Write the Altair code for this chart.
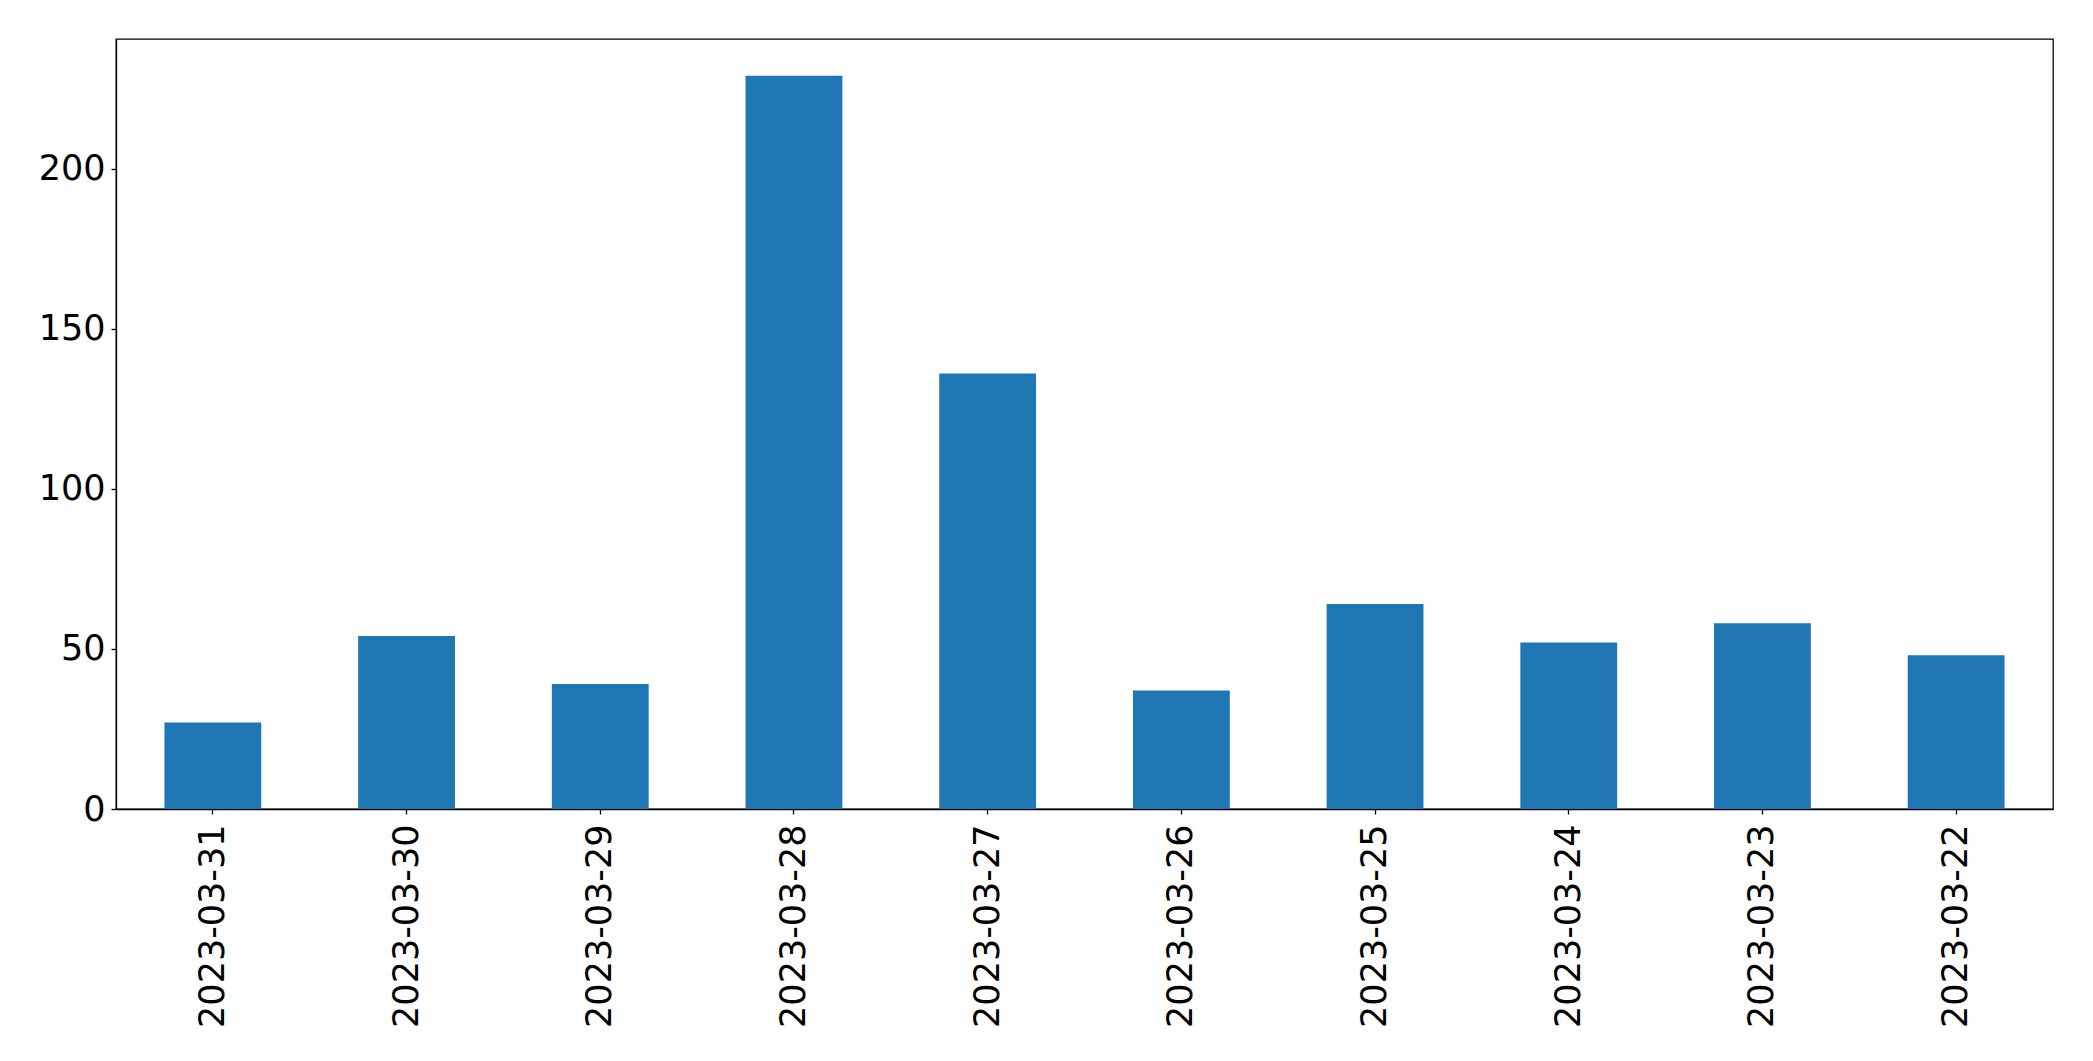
import altair as alt
import pandas as pd

dates = ["2023-03-31", "2023-03-30", "2023-03-29", "2023-03-28", "2023-03-27",
         "2023-03-26", "2023-03-25", "2023-03-24", "2023-03-23", "2023-03-22"]
counts = [27, 54, 39, 229, 136, 37, 64, 52, 58, 48]
y_ticks = [0, 50, 100, 150, 200]

df = pd.DataFrame({"date": dates, "count": counts})

chart = alt.Chart(df).mark_bar(color="#1f77b4").encode(
    x=alt.X("date:N", sort=dates, title=None,
            scale=alt.Scale(paddingInner=0.5, paddingOuter=0.25),
            axis=alt.Axis(labelAngle=-90, labelFontSize=35, labelFont="DejaVu Sans",
                          labelColor="black", tickColor="black", domainColor="black",
                          tickSize=5, labelPadding=10, labelLimit=0, grid=False)),
    y=alt.Y("count:Q", title=None,
            scale=alt.Scale(domain=[0, 240.45], nice=False),
            axis=alt.Axis(values=y_ticks, labelFontSize=35, labelFont="DejaVu Sans",
                          labelColor="black", tickColor="black", domainColor="black",
                          tickSize=5, labelPadding=6, grid=False)),
).properties(
    width=1937, height=770,
    autosize=alt.AutoSizeParams(type="none"),
    padding={"left": 108, "top": 31, "right": 30, "bottom": 230},
).configure_view(
    stroke="black", strokeWidth=1.3
).configure_axis(
    domainWidth=1.3, tickWidth=1.3
)

chart.save("out.html", embed_options={"renderer": "svg", "actions": False})
